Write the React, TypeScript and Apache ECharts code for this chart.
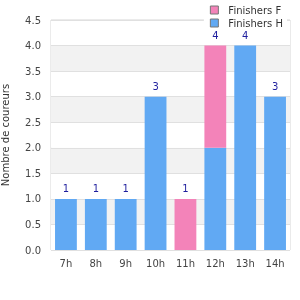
import React, { useEffect, useRef } from "react";
import * as echarts from "echarts";

const categories = ["7h", "8h", "9h", "10h", "11h", "12h", "13h", "14h"];
const finishersF = [0, 0, 0, 0, 1, 2, 0, 0];
const finishersH = [1, 1, 1, 3, 0, 2, 4, 3];
const yTicks = [0, 0.5, 1, 1.5, 2, 2.5, 3, 3.5, 4, 4.5];

const totals = categories.map((_, i) => finishersF[i] + finishersH[i]);

export default function App() {
  const ref = useRef<HTMLDivElement>(null);
  useEffect(() => {
    const chart = echarts.init(ref.current!, null, { renderer: "svg" });
    const labelStyle = {
      show: true,
      position: "top",
      color: "#1f1f9e",
      fontSize: 10,
      fontFamily: "DejaVu Sans",
      distance: 5,
    };
    const hData = finishersH.map((v, i) => ({
      value: v,
      label: finishersF[i] === 0 ? { ...labelStyle, formatter: () => String(totals[i]) } : { show: false },
    }));
    const fData = finishersF.map((v, i) => ({
      value: v === 0 ? null : v,
      label: v !== 0 ? { ...labelStyle, formatter: () => String(totals[i]) } : { show: false },
    }));
    chart.setOption({
      animation: false,
      textStyle: { fontFamily: "DejaVu Sans" },
      legend: {
        orient: "vertical",
        right: 13,
        top: 2,
        itemWidth: 8,
        itemHeight: 8,
        itemGap: 3,
        padding: [3, 4, 3, 6],
        backgroundColor: "#ffffff",
        icon: "rect",
        textStyle: { color: "#333", fontSize: 10, fontFamily: "DejaVu Sans", padding: [0, 0, 0, 5] },
        data: [
          { name: "Finishers F", itemStyle: { borderColor: "#777", borderWidth: 1 } },
          { name: "Finishers H", itemStyle: { borderColor: "#777", borderWidth: 1 } },
        ],
        z: 10,
      },
      grid: {
        left: 51,
        right: 10,
        top: 20,
        bottom: 50,
        outerBoundsMode: "none",
        containLabel: false,
        show: true,
        borderColor: "#d6d6d6",
        borderWidth: 1,
        backgroundColor: "transparent",
      },
      xAxis: {
        type: "category",
        data: categories,
        axisLine: { show: false },
        axisTick: { show: false },
        axisLabel: { color: "#444", fontSize: 10, margin: 8 },
      },
      yAxis: {
        type: "value",
        min: 0,
        max: 4.5,
        interval: 0.5,
        name: "Nombre de coureurs",
        nameLocation: "middle",
        nameGap: 41,
        nameTextStyle: { color: "#333", fontSize: 10 },
        axisLine: { show: false },
        axisTick: { show: false },
        axisLabel: {
          color: "#444",
          fontSize: 10,
          margin: 10,
          formatter: (v: number) => (yTicks.includes(v) ? v.toFixed(1) : ""),
        },
        splitLine: { show: true, lineStyle: { color: "#e0e0e0" } },
        splitArea: { show: true, areaStyle: { color: ["#ffffff", "#f2f2f2"] } },
      },
      series: [
        {
          name: "Finishers H",
          type: "bar",
          stack: "total",
          barWidth: "73%",
          itemStyle: { color: "#61a9f3" },
          data: hData,
        },
        {
          name: "Finishers F",
          type: "bar",
          stack: "total",
          barWidth: "73%",
          itemStyle: { color: "#f383b9" },
          data: fData,
        },
      ],
    });
    return () => chart.dispose();
  }, []);
  return <div ref={ref} style={{ position: "fixed", left: 0, top: 0, width: 300, height: 300 }} />;
}
